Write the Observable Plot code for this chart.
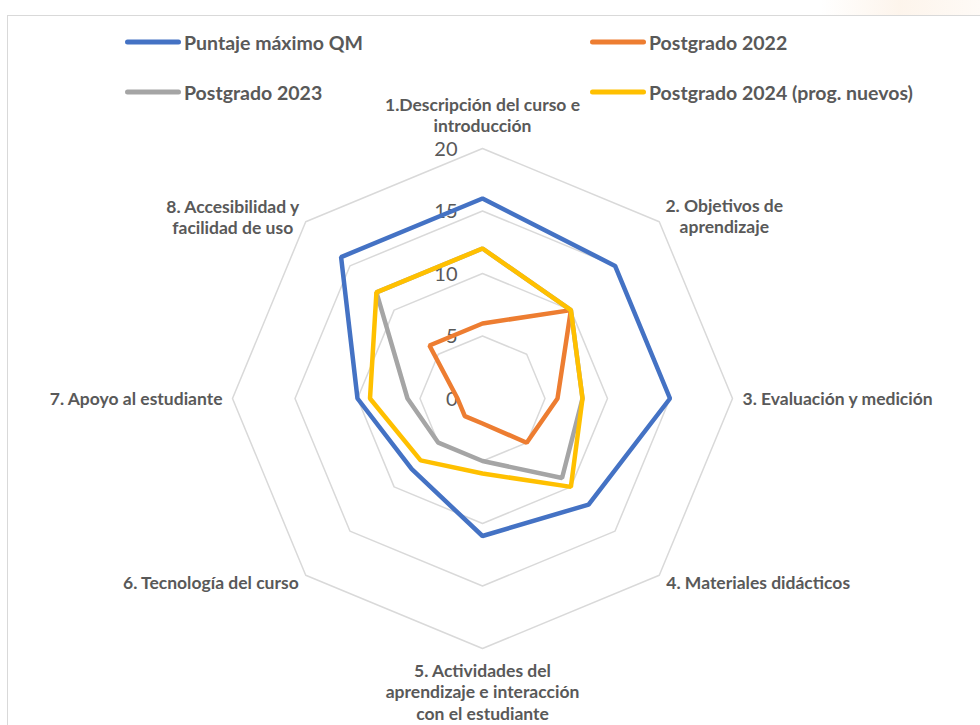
<!DOCTYPE html>
<html><head><meta charset="utf-8">
<script src="https://cdn.jsdelivr.net/npm/d3@7"></script>
<script src="https://cdn.jsdelivr.net/npm/@observablehq/plot@0.6"></script>
<style>
html,body{margin:0;padding:0;background:#fff;overflow:hidden;width:980px;height:725px;}
#wrap{position:relative;width:980px;height:725px;overflow:hidden;}
#tint{position:absolute;left:820px;top:0;width:160px;height:15px;background:linear-gradient(90deg,rgba(255,255,255,0),rgba(250,225,200,0.35) 50%,rgba(250,230,210,0.2));}
#frame{position:absolute;left:7px;top:15px;width:1000px;height:760px;border:1.5px solid #d9d9d9;box-sizing:border-box;}
#chart{position:absolute;left:0;top:0;}
.legend-item{position:absolute;display:flex;align-items:center;font-family:Lato,"Noto Sans",sans-serif;font-weight:700;font-size:19.5px;color:#595959;transform:translateY(-50%);white-space:nowrap;}
.swatch{width:56px;height:5px;border-radius:3px;margin-right:3px;}
</style></head>
<body><div id="wrap"><div id="tint"></div><div id="frame"></div><div id="chart"></div></div>
<script>
// ---- data ----
const categories = [
  "1.Descripción del curso e\nintroducción",
  "2. Objetivos de\naprendizaje",
  "3. Evaluación y medición",
  "4. Materiales didácticos",
  "5. Actividades del\naprendizaje e interacción\ncon el estudiante",
  "6. Tecnología del curso",
  "7. Apoyo al estudiante",
  "8. Accesibilidad y\nfacilidad de uso"
];
const seriesNames = ["Puntaje máximo QM", "Postgrado 2022", "Postgrado 2023", "Postgrado 2024 (prog. nuevos)"];
const puntajeMaximo = [16, 15, 15, 12, 11, 8, 10, 16];
const postgrado2022 = [6, 10, 6, 5, 2, 2, 2, 6];
const postgrado2023 = [12, 10, 8, 9, 5, 5, 6, 12];
const postgrado2024 = [12, 10, 8, 10, 6, 7, 9, 12];
const tickValues = [0, 5, 10, 15, 20];
const seriesColors = ["#4472C4", "#ED7D31", "#A5A5A5", "#FFC000"];

// ---- layout ----
const W = 980, H = 725;
const cx = 482, cy = 398, pxPerUnit = 12.5;
const mL = 7, mT = 15;
const maxV = d3.max(tickValues);
const n = categories.length;
const ang = i => i * 2 * Math.PI / n;
const px = (v, i) => v * Math.sin(ang(i));
const py = (v, i) => v * Math.cos(ang(i));

const seriesValues = [puntajeMaximo, postgrado2022, postgrado2023, postgrado2024];
const rows = seriesNames.flatMap((s, si) => seriesValues[si].map((v, i) => ({series: s, i, v, x: px(v, i), y: py(v, i)})));
const gridRows = tickValues.filter(t => t > 0).flatMap(t => d3.range(n).map(i => ({t, x: px(t, i), y: py(t, i)})));

// label placement relative to outer vertex (pixels)
const labelLayout = [
  {anchor: "middle", dx: 0, dy: -34},
  {anchor: "middle", dx: 65, dy: -6},
  {anchor: "start", dx: 10, dy: 0},
  {anchor: "start", dx: 7, dy: 7},
  {anchor: "middle", dx: 0, dy: 43},
  {anchor: "end", dx: -7, dy: 7},
  {anchor: "end", dx: -10, dy: 0},
  {anchor: "middle", dx: -73, dy: -5}
];
const labelRows = categories.map((c, i) => ({c, i, x: px(maxV, i), y: py(maxV, i), ...labelLayout[i]}));

const font = "Lato, 'Noto Sans', sans-serif";
const textColor = "#595959";

const plot = Plot.plot({
  width: W, height: H,
  marginLeft: mL, marginTop: mT, marginRight: 0, marginBottom: 0,
  x: {domain: [(mL - cx) / pxPerUnit, (W - cx) / pxPerUnit], axis: null},
  y: {domain: [(cy - H) / pxPerUnit, (cy - mT) / pxPerUnit], axis: null},
  color: {domain: seriesNames, range: seriesColors},
  style: {background: "transparent", fontFamily: font},
  marks: [
    Plot.line(gridRows, {x: "x", y: "y", z: "t", curve: "linear-closed", stroke: "#d9d9d9", strokeWidth: 1.5}),
    Plot.text(tickValues, {x: () => 0, y: d => d, text: d => String(d), textAnchor: "end", dx: -25, dy: 1, fontSize: 20, fill: textColor, fontFamily: font}),
    Plot.line(rows, {x: "x", y: "y", z: "series", stroke: "series", curve: "linear-closed", strokeWidth: 4.5, strokeLinejoin: "miter"}),
    ...labelLayout.map((L, k) => Plot.text(labelRows.filter(d => d.i === k), {
      x: "x", y: "y", text: "c", textAnchor: L.anchor, dx: L.dx, dy: L.dy,
      lineHeight: 1.23, fontSize: 17.5, fontWeight: "bold", fill: textColor, fontFamily: font
    }))
  ]
});
document.getElementById("chart").appendChild(plot);

// legend (HTML, overlaid at top)
const legendPos = [[125, 42], [590, 42], [125, 92], [590, 92]];
const wrap = document.getElementById("wrap");
seriesNames.forEach((s, k) => {
  const item = document.createElement("div");
  item.className = "legend-item";
  item.style.left = legendPos[k][0] + "px";
  item.style.top = legendPos[k][1] + "px";
  const sw = document.createElement("span");
  sw.className = "swatch";
  sw.style.background = seriesColors[k];
  const tx = document.createElement("span");
  tx.textContent = s;
  item.appendChild(sw); item.appendChild(tx);
  wrap.appendChild(item);
});
</script>
</body></html>
